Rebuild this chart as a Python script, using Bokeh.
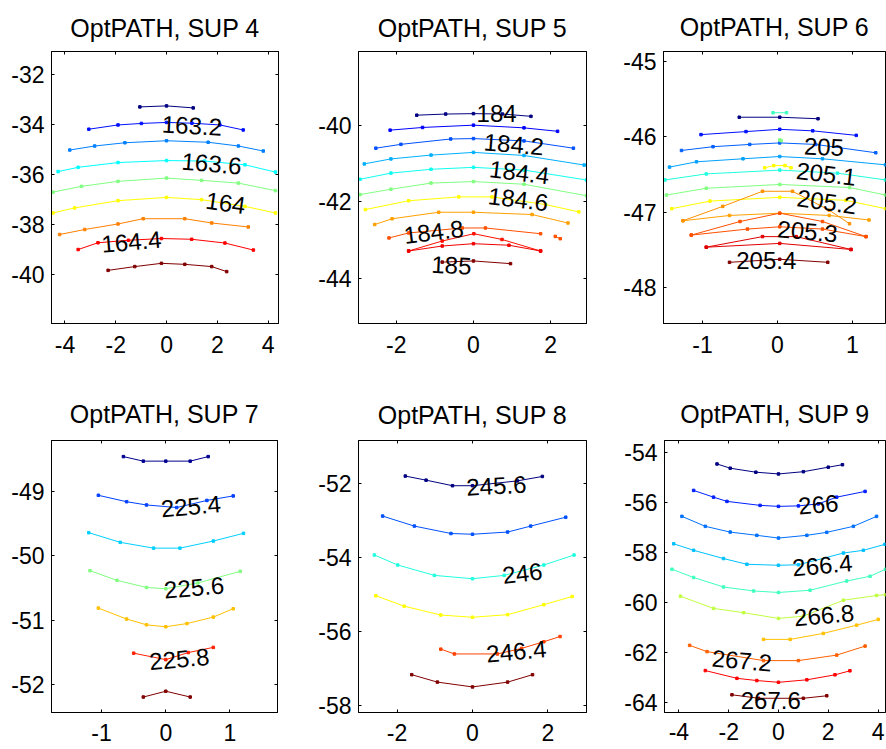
from bokeh.plotting import figure
from bokeh.models import FixedTicker, LinearAxis, Title, ColumnDataSource
from bokeh.layouts import row, column
from bokeh.embed import file_html
from bokeh.resources import INLINE
from bokeh.core.properties import value

FONT = "Liberation Sans"

# ---------------- SUP 4 ----------------
SUP4_TITLE = "OptPATH, SUP 4"
SUP4_XRANGE = (-4.53, 4.41)
SUP4_YRANGE = (-41.94, -31.09)
SUP4_XTICKS = [-4, -2, 0, 2, 4]
SUP4_YTICKS = [-40, -38, -36, -34, -32]
SUP4_LINE_X = [
    [-1.05, 0, 1.05],
    [-3.06, -1.91, -0.99, 0, 1.0, 2.1, 3.02],
    [-3.81, -2.83, -1.64, 0, 1.64, 2.83, 3.81],
    [-4.27, -3.48, -1.91, 0, 1.5, 3.09, 4.29],
    [-4.47, -3.35, -1.91, 0, 1.38, 2.83, 4.29],
    [-4.47, -3.62, -1.91, 0, 1.38, 3.09, 4.29],
    [-4.21, -3.22, -1.91, -0.92, 0.72, 1.78, 3.22],
    [-3.48, -2.7, -1.5, -0.2, 0.99, 2.3, 3.42],
    [-2.3, -1.25, -0.2, 0.72, 1.78, 2.37],
]
SUP4_LINE_Y = [
    [-33.30, -33.26, -33.34],
    [-34.19, -34.02, -33.96, -33.92, -33.95, -34.02, -34.22],
    [-35.02, -34.86, -34.73, -34.65, -34.71, -34.86, -35.06],
    [-35.88, -35.71, -35.52, -35.44, -35.46, -35.61, -35.90],
    [-36.70, -36.47, -36.27, -36.14, -36.23, -36.34, -36.64],
    [-37.53, -37.33, -37.04, -36.91, -37.00, -37.27, -37.53],
    [-38.39, -38.19, -37.97, -37.76, -37.76, -37.93, -38.09],
    [-38.99, -38.72, -38.62, -38.55, -38.58, -38.73, -39.01],
    [-39.82, -39.67, -39.54, -39.58, -39.67, -39.87],
]
SUP4_COLORS = ["#000080", "#0010ff", "#0080ff", "#00ffff", "#80ff80",
               "#ffff00", "#ff8000", "#ff0000", "#800000"]
SUP4_LABELS = ["163.2", "163.6", "164", "164.4"]
SUP4_LABEL_X = [1.0, 1.78, 2.33, -1.38]
SUP4_LABEL_Y = [-34.05, -35.56, -37.13, -38.68]
SUP4_LABEL_ANGLE = [-3, -5, -8, 5]

# ---------------- SUP 5 ----------------
SUP5_TITLE = "OptPATH, SUP 5"
SUP5_XRANGE = (-2.98, 2.93)
SUP5_YRANGE = (-45.17, -38.08)
SUP5_XTICKS = [-2, 0, 2]
SUP5_YTICKS = [-44, -42, -40]
SUP5_LINE_X = [
    [-1.47, -0.72, 0, 0.75, 1.49],
    [-2.16, -1.32, 0, 1.31, 2.18],
    [-2.53, -1.88, -0.59, 0, 1.31, 2.59],
    [-2.83, -2.14, -1.1, 0, 1.31, 2.87],
    [-2.94, -2.14, -1.1, 0, 1.31, 2.93],
    [-2.94, -2.14, -1.1, 0, 1.31, 2.93],
    [-2.8, -1.68, -0.38, 0.48, 1.87, 2.73],
    [-2.56, -2.11, -0.9, 0, 1.52, 2.45],
    [-2.19, -1.68, -0.29, 0.31, 1.74],
    [2.12, 2.25],
    [-1.68, -0.81, 0.01, 0.74, 1.74],
    [-1.68, -0.81, 0, 0.92, 1.74],
    [-0.81, 0, 0.96],
]
SUP5_LINE_Y = [
    [-39.74, -39.71, -39.70, -39.71, -39.77],
    [-40.13, -40.06, -40.00, -40.07, -40.16],
    [-40.60, -40.50, -40.36, -40.35, -40.41, -40.60],
    [-41.01, -40.88, -40.78, -40.71, -40.79, -41.04],
    [-41.41, -41.25, -41.15, -41.10, -41.17, -41.43],
    [-41.81, -41.67, -41.51, -41.47, -41.54, -41.84],
    [-42.20, -41.97, -41.87, -41.87, -42.07, -42.26],
    [-42.59, -42.44, -42.27, -42.27, -42.33, -42.55],
    [-42.94, -42.81, -42.68, -42.68, -42.83],
    [-42.90, -42.96],
    [-43.28, -43.02, -42.83, -42.98, -43.28],
    [-43.28, -43.15, -43.09, -43.13, -43.28],
    [-43.57, -43.54, -43.61],
]
SUP5_COLORS = ["#000080", "#0000ff", "#0050ff", "#00b0ff", "#10ffef", "#80ff80",
               "#ffff00", "#ffa000", "#ff5000", "#ff5000", "#ff1000", "#f00000",
               "#800000"]
SUP5_LABELS = ["184", "184.2", "184.4", "184.6", "184.8", "185"]
SUP5_LABEL_X = [0.6, 1.05, 1.19, 1.16, -1.03, -0.57]
SUP5_LABEL_Y = [-39.70, -40.50, -41.23, -41.93, -42.78, -43.65]
SUP5_LABEL_ANGLE = [0, -5, -7, -7, 7, -3]

# ---------------- SUP 6 ----------------
SUP6_TITLE = "OptPATH, SUP 6"
SUP6_XRANGE = (-1.52, 1.44)
SUP6_YRANGE = (-48.47, -44.87)
SUP6_XTICKS = [-1, 0, 1]
SUP6_YTICKS = [-48, -47, -46, -45]
SUP6_LINE_X = [
    [-0.06, 0.12],
    [-0.51, 0.03, 0.54],
    [-1.02, -0.42, 0.03, 0.47, 1.05],
    [-1.28, -0.86, -0.37, 0.03, 0.51, 1.31],
    [0.03, 0.05],
    [-1.44, -1.08, -0.46, 0.03, 0.6, 1.44],
    [-1.5, -0.95, 0.03, 0.8, 1.44],
    [-0.17, -0.05, 0.1, 0.18],
    [-1.48, -0.95, 0.03, 0.96, 1.44],
    [-1.41, -0.9, 0.03, 0.91, 1.44],
    [-1.26, -0.64, 0.03, 0.69, 1.22],
    [-1.26, -0.73, -0.2, 0.2, 0.69, 0.96],
    [-1.15, -0.5, 0.03, 0.6, 1.18],
    [-1.15, -0.4, 0.03, 0.6, 1.18],
    [-0.95, -0.2, 0.25, 0.98],
    [-0.95, 0.03, 0.98],
    [-0.64, 0.03, 0.67],
]
SUP6_LINE_Y = [
    [-45.68, -45.68],
    [-45.74, -45.74, -45.76],
    [-45.97, -45.93, -45.90, -45.92, -45.98],
    [-46.18, -46.13, -46.10, -46.08, -46.10, -46.21],
    [-46.04, -46.05],
    [-46.40, -46.33, -46.29, -46.26, -46.29, -46.37],
    [-46.57, -46.49, -46.44, -46.48, -46.57],
    [-46.41, -46.38, -46.38, -46.41],
    [-46.77, -46.68, -46.63, -46.67, -46.77],
    [-46.95, -46.85, -46.80, -46.84, -46.95],
    [-47.11, -47.04, -47.01, -47.04, -47.10],
    [-47.11, -46.92, -46.72, -46.72, -46.97, -47.15],
    [-47.30, -47.12, -47.01, -47.12, -47.32],
    [-47.30, -47.22, -47.19, -47.22, -47.32],
    [-47.46, -47.32, -47.32, -47.49],
    [-47.46, -47.41, -47.49],
    [-47.66, -47.62, -47.66],
]
SUP6_COLORS = ["#40ffc0", "#000080", "#0010ff", "#0060ff", "#80ff80", "#00a0ff",
               "#20ffdf", "#ffff00", "#80ff80", "#ffff00", "#ffa000", "#ff9000",
               "#ff5000", "#ff5000", "#e00000", "#e00000", "#800000"]
SUP6_LABELS = ["205", "205.1", "205.2", "205.3", "205.4"]
SUP6_LABEL_X = [0.62, 0.65, 0.66, 0.40, -0.15]
SUP6_LABEL_Y = [-46.13, -46.49, -46.86, -47.25, -47.63]
SUP6_LABEL_ANGLE = [-2, -7, -8, -5, 0]

# ---------------- SUP 7 ----------------
SUP7_TITLE = "OptPATH, SUP 7"
SUP7_XRANGE = (-1.78, 1.74)
SUP7_YRANGE = (-52.43, -48.21)
SUP7_XTICKS = [-1, 0, 1]
SUP7_YTICKS = [-52, -51, -50, -49]
SUP7_LINE_X = [
    [-0.66, -0.35, 0, 0.38, 0.66],
    [-1.05, -0.61, -0.3, 0.17, 0.64, 1.05],
    [-1.2, -0.71, -0.19, 0.22, 0.74, 1.21],
    [-1.18, -0.76, -0.3, 0, 0.5, 1.16],
    [-1.05, -0.61, -0.3, 0, 0.33, 0.74, 1.05],
    [-0.5, 0, 0.35, 0.74],
    [-0.35, 0, 0.38],
]
SUP7_LINE_Y = [
    [-48.46, -48.53, -48.53, -48.53, -48.46],
    [-49.06, -49.16, -49.21, -49.25, -49.14, -49.07],
    [-49.64, -49.79, -49.88, -49.88, -49.77, -49.65],
    [-50.23, -50.38, -50.49, -50.51, -50.42, -50.24],
    [-50.81, -50.98, -51.07, -51.10, -51.05, -50.95, -50.82],
    [-51.51, -51.61, -51.50, -51.42],
    [-52.19, -52.10, -52.19],
]
SUP7_COLORS = ["#000090", "#0040ff", "#00d0ff", "#80ff80", "#ffc000", "#ff2000", "#800000"]
SUP7_LABELS = ["225.4", "225.6", "225.8"]
SUP7_LABEL_X = [0.39, 0.44, 0.21]
SUP7_LABEL_Y = [-49.23, -50.49, -51.60]
SUP7_LABEL_ANGLE = [5, 5, 5]

# ---------------- SUP 8 ----------------
SUP8_TITLE = "OptPATH, SUP 8"
SUP8_XRANGE = (-3.02, 3.02)
SUP8_YRANGE = (-58.18, -50.84)
SUP8_XTICKS = [-2, 0, 2]
SUP8_YTICKS = [-58, -56, -54, -52]
SUP8_LINE_X = [
    [-1.78, -1.23, -0.53, 0, 1.19, 1.85],
    [-2.38, -1.54, -0.57, 0, 0.93, 1.54, 2.47],
    [-2.6, -1.98, -1.01, 0, 0.84, 1.89, 2.69],
    [-2.56, -1.81, -0.84, 0, 0.93, 1.89, 2.64],
    [-0.84, -0.48, 0.66, 1.3, 1.89, 2.32],
    [-1.61, -0.93, 0, 0.93, 1.59],
]
SUP8_LINE_Y = [
    [-51.80, -51.91, -52.06, -52.06, -51.93, -51.81],
    [-52.88, -53.15, -53.35, -53.37, -53.31, -53.15, -52.91],
    [-53.93, -54.20, -54.48, -54.57, -54.48, -54.20, -53.93],
    [-55.03, -55.31, -55.55, -55.61, -55.54, -55.27, -55.05],
    [-56.47, -56.60, -56.60, -56.45, -56.27, -56.13],
    [-57.16, -57.36, -57.49, -57.36, -57.16],
]
SUP8_COLORS = ["#000080", "#0050ff", "#20ffdf", "#ffff00", "#ff4000", "#800000"]
SUP8_LABELS = ["245.6", "246", "246.4"]
SUP8_LABEL_X = [0.63, 1.32, 1.16]
SUP8_LABEL_Y = [-52.06, -54.42, -56.53]
SUP8_LABEL_ANGLE = [3, 7, 5]

# ---------------- SUP 9 ----------------
SUP9_TITLE = "OptPATH, SUP 9"
SUP9_XRANGE = (-4.58, 4.30)
SUP9_YRANGE = (-64.4, -53.5)
SUP9_XTICKS = [-4, -2, 0, 2, 4]
SUP9_YTICKS = [-64, -62, -60, -58, -56, -54]
SUP9_LINE_X = [
    [-2.47, -1.94, -0.91, 0, 1.0, 2.0, 2.57],
    [-3.41, -2.61, -2.07, -0.74, 0, 0.8, 1.6, 2.34, 3.48],
    [-3.88, -2.94, -1.94, -0.87, 0, 1.14, 1.94, 3.01, 3.94],
    [-4.21, -3.41, -2.21, -1.27, 0, 0.8, 2.61, 3.41, 4.28],
    [-4.28, -3.41, -2.21, -1.0, 0, 1.27, 2.74, 3.68, 4.3],
    [-3.94, -2.61, -1.4, 0, 1.0, 2.61, 3.94, 4.3],
    [-0.6, 0.47, 1.8, 3.14, 4.01],
    [-3.57, -2.87, -0.6, 0.8, 2.34, 3.48],
    [-2.94, -1.67, -0.87, 0, 1.14, 2.27, 2.87],
    [-1.87, -0.8, 1.0, 1.94],
]
SUP9_LINE_Y = [
    [-54.44, -54.61, -54.77, -54.84, -54.75, -54.57, -54.47],
    [-55.50, -55.77, -55.94, -56.10, -56.14, -56.12, -56.04, -55.77, -55.54],
    [-56.54, -56.94, -57.17, -57.30, -57.41, -57.30, -57.18, -56.94, -56.54],
    [-57.64, -57.90, -58.23, -58.46, -58.50, -58.48, -58.01, -57.90, -57.66],
    [-58.66, -58.99, -59.37, -59.53, -59.59, -59.50, -59.13, -58.94, -58.66],
    [-59.74, -60.23, -60.40, -60.63, -60.54, -59.90, -59.71, -59.68],
    [-61.47, -61.47, -61.23, -60.90, -60.67],
    [-61.71, -61.96, -62.32, -62.32, -62.10, -61.74],
    [-62.72, -63.03, -63.12, -63.19, -63.09, -62.89, -62.73],
    [-63.69, -63.83, -63.83, -63.73],
]
SUP9_COLORS = ["#000080", "#0020ff", "#0070ff", "#00c0ff", "#40ffc0",
               "#c0ff40", "#ffc000", "#ff6000", "#ff0000", "#800000"]
SUP9_LABELS = ["266", "266.4", "266.8", "267.2", "267.6"]
SUP9_LABEL_X = [1.6, 1.76, 1.83, -1.47, -0.31]
SUP9_LABEL_Y = [-56.06, -58.5, -60.5, -62.32, -63.92]
SUP9_LABEL_ANGLE = [5, 5, 5, -5, 0]


def hidden_axis(ticks):
    ax = LinearAxis(ticker=FixedTicker(ticks=ticks))
    ax.major_label_text_font_size = "1px"
    ax.major_label_text_color = None
    ax.major_label_text_alpha = 0
    ax.major_label_standoff = 0
    ax.major_tick_in = 3
    ax.major_tick_out = 0
    ax.minor_tick_in = 0
    ax.minor_tick_out = 0
    ax.axis_line_color = "black"
    return ax


def style_axis(ax, ticks, standoff):
    ax.ticker = FixedTicker(ticks=ticks)
    ax.major_label_overrides = {t_: str(t_) for t_ in ticks}
    ax.major_label_text_font = FONT
    ax.major_label_text_font_size = "23px"
    ax.major_label_text_color = "black"
    ax.major_tick_in = 3
    ax.major_tick_out = 0
    ax.minor_tick_in = 0
    ax.minor_tick_out = 0
    ax.axis_line_color = "black"
    ax.major_tick_line_color = "black"
    ax.major_label_standoff = standoff


def make_panel(title, xr, yr, xticks, yticks, lx, ly, colors, labs, labx, laby, labang,
               geom, right_axis=True):
    w, h, bl, br, bt, bb, title_so, xlab_so = geom
    p = figure(width=w, height=h, x_range=xr, y_range=yr,
               output_backend="svg", toolbar_location=None,
               min_border_left=bl, min_border_right=br,
               min_border_top=bt, min_border_bottom=bb)
    p.background_fill_color = "white"
    p.border_fill_color = "white"
    p.outline_line_color = "black"
    p.outline_line_width = 1
    p.xgrid.visible = False
    p.ygrid.visible = False
    style_axis(p.below[0], xticks, xlab_so)
    style_axis(p.left[0], yticks, 7)
    p.add_layout(hidden_axis(xticks), "above")
    if right_axis:
        p.add_layout(hidden_axis(yticks), "right")
    t = Title(text=title, align="center", text_font=FONT, text_font_size="25px",
              text_font_style="normal", text_color="black", standoff=title_so)
    p.add_layout(t, "above")
    for xs, ys, c in zip(lx, ly, colors):
        p.line(xs, ys, line_color=c, line_width=1.0)
        p.scatter(xs, ys, marker="square", size=2.5, color=c)
    src = ColumnDataSource(dict(x=labx, y=laby, text=labs, angle=labang))
    p.text(x="x", y="y", text="text", angle="angle", angle_units="deg", source=src,
           text_font=value(FONT), text_font_size="24px", text_color="black",
           text_align="center", text_baseline="middle")
    return p


p4 = make_panel(SUP4_TITLE, SUP4_XRANGE, SUP4_YRANGE, SUP4_XTICKS, SUP4_YTICKS,
                SUP4_LINE_X, SUP4_LINE_Y, SUP4_COLORS, SUP4_LABELS, SUP4_LABEL_X,
                SUP4_LABEL_Y, SUP4_LABEL_ANGLE, (306, 375, 51, 28, 49, 52, 19, 12))
p5 = make_panel(SUP5_TITLE, SUP5_XRANGE, SUP5_YRANGE, SUP5_XTICKS, SUP5_YTICKS,
                SUP5_LINE_X, SUP5_LINE_Y, SUP5_COLORS, SUP5_LABELS, SUP5_LABEL_X,
                SUP5_LABEL_Y, SUP5_LABEL_ANGLE, (305, 375, 52, 25, 49, 52, 19, 12))
p6 = make_panel(SUP6_TITLE, SUP6_XRANGE, SUP6_YRANGE, SUP6_XTICKS, SUP6_YTICKS,
                SUP6_LINE_X, SUP6_LINE_Y, SUP6_COLORS, SUP6_LABELS, SUP6_LABEL_X,
                SUP6_LABEL_Y, SUP6_LABEL_ANGLE, (275, 375, 52, 1, 51, 52, 21, 12),
                right_axis=False)
p7 = make_panel(SUP7_TITLE, SUP7_XRANGE, SUP7_YRANGE, SUP7_XTICKS, SUP7_YTICKS,
                SUP7_LINE_X, SUP7_LINE_Y, SUP7_COLORS, SUP7_LABELS, SUP7_LABEL_X,
                SUP7_LABEL_Y, SUP7_LABEL_ANGLE, (306, 374, 51, 29, 65, 37, 26, 11))
p8 = make_panel(SUP8_TITLE, SUP8_XRANGE, SUP8_YRANGE, SUP8_XTICKS, SUP8_YTICKS,
                SUP8_LINE_X, SUP8_LINE_Y, SUP8_COLORS, SUP8_LABELS, SUP8_LABEL_X,
                SUP8_LABEL_Y, SUP8_LABEL_ANGLE, (305, 374, 52, 25, 63, 37, 24, 11))
p9 = make_panel(SUP9_TITLE, SUP9_XRANGE, SUP9_YRANGE, SUP9_XTICKS, SUP9_YTICKS,
                SUP9_LINE_X, SUP9_LINE_Y, SUP9_COLORS, SUP9_LABELS, SUP9_LABEL_X,
                SUP9_LABEL_Y, SUP9_LABEL_ANGLE, (275, 374, 53, 1, 65, 36, 26, 10),
                right_axis=False)

layout = column(row(p4, p5, p6, spacing=0), row(p7, p8, p9, spacing=0), spacing=0)

with open("out.html", "w") as f:
    f.write(file_html(layout, INLINE))
